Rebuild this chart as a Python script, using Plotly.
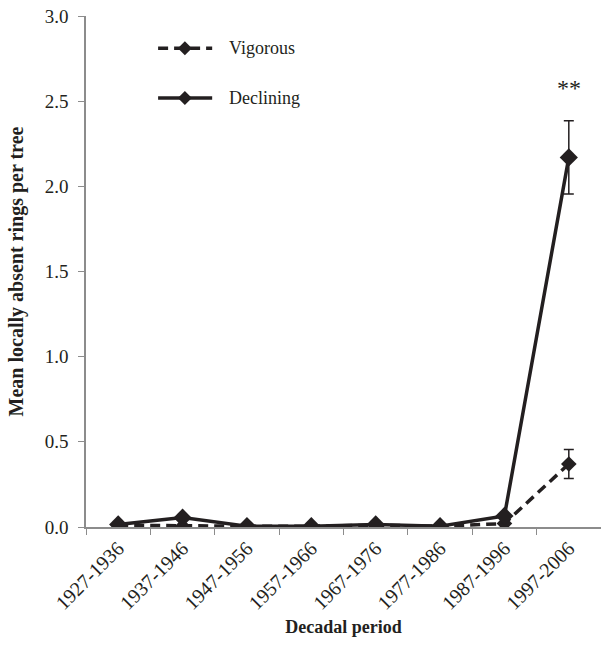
import plotly.graph_objects as go

periods = ["1927-1936", "1937-1946", "1947-1956", "1957-1966",
           "1967-1976", "1977-1986", "1987-1996", "1997-2006"]
vigorous = [0.01, 0.005, 0.005, 0.005, 0.01, 0.005, 0.02, 0.37]
vigorous_err = [None, None, None, None, None, None, None, 0.085]
declining = [0.015, 0.055, 0.005, 0.005, 0.015, 0.005, 0.065, 2.17]
declining_err = [None, None, None, None, None, None, None, 0.215]
series_names = ["Vigorous", "Declining"]

ink = "#231f20"
axis_grey = "#8c8c8c"
serif = "Liberation Serif"
dash_style = "10px,6px"

fig = go.Figure()
fig.add_trace(go.Scatter(
    x=periods, y=vigorous, name=series_names[0], mode="lines+markers",
    line=dict(color=ink, width=3.5, dash=dash_style),
    marker=dict(symbol="diamond", size=12, color=ink),
    error_y=dict(type="data", array=vigorous_err, visible=True,
                 color=ink, thickness=1.5, width=5),
))
fig.add_trace(go.Scatter(
    x=periods, y=declining, name=series_names[1], mode="lines+markers",
    line=dict(color=ink, width=3.5),
    marker=dict(symbol="diamond", size=14, color=ink),
    error_y=dict(type="data", array=declining_err, visible=True,
                 color=ink, thickness=1.5, width=5),
))

# significance marker above the last declining point
fig.add_annotation(x=periods[-1], y=declining[-1] + declining_err[-1] + 0.19,
                   text="**", showarrow=False,
                   font=dict(family=serif, size=24, color=ink))

# hand-built legend: line sample with a diamond, then the label
legend_rows = [(0.937, dash_style), (0.8395, "solid")]
diamond = "M -7 0 L 0 7 L 7 0 L 0 -7 Z"
for name, (ly, dash) in zip(series_names, legend_rows):
    fig.add_shape(type="line", xref="paper", yref="paper",
                  x0=0.14, x1=0.245, y0=ly, y1=ly,
                  line=dict(color=ink, width=3.5, dash=dash))
    fig.add_shape(type="path", xref="paper", yref="paper",
                  xsizemode="pixel", ysizemode="pixel",
                  xanchor=0.192, yanchor=ly, path=diamond,
                  fillcolor=ink, line=dict(color=ink, width=0))
    fig.add_annotation(x=0.274, y=ly, xref="paper", yref="paper",
                       xanchor="left", yanchor="middle", text=name,
                       showarrow=False,
                       font=dict(family=serif, size=18, color=ink))

fig.update_layout(
    width=601, height=655,
    margin=dict(l=86, r=0, t=16, b=128),
    paper_bgcolor="white", plot_bgcolor="white",
    font=dict(family=serif, size=17, color=ink),
    showlegend=False,
    xaxis=dict(
        type="category", range=[-0.5, 7.5],
        showline=True, linecolor=axis_grey, linewidth=1.5,
        ticks="outside", tickson="boundaries", ticklen=6,
        tickcolor=axis_grey, tickangle=-45,
        showgrid=False, zeroline=False,
        tickfont=dict(family=serif, size=20, color=ink),
        title=dict(text="<b>Decadal period</b>", standoff=7,
                   font=dict(family=serif, size=18, color=ink)),
    ),
    yaxis=dict(
        range=[0, 3], dtick=0.5, tickformat=".1f",
        showline=True, linecolor=axis_grey, linewidth=1.5,
        ticks="outside", ticklen=6, tickcolor=axis_grey,
        ticklabelstandoff=6,
        showgrid=False, zeroline=False,
        tickfont=dict(family=serif, size=19, color=ink),
        title=dict(text="<b>Mean locally absent rings per tree</b>", standoff=16,
                   font=dict(family=serif, size=20, color=ink)),
    ),
)

fig.write_html("out.html")
